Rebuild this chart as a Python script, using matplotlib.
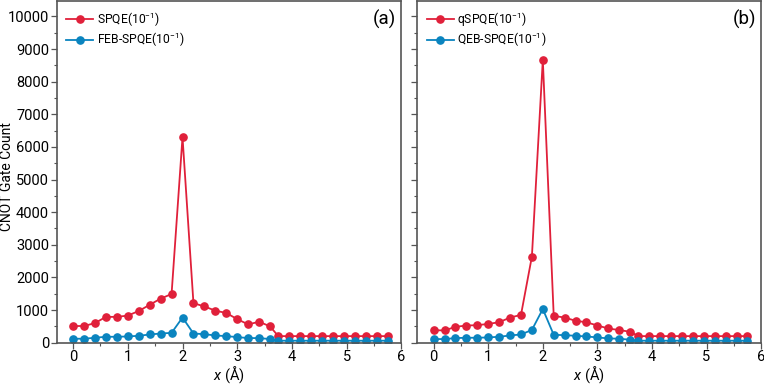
import numpy as np
import matplotlib.pyplot as plt
from matplotlib.ticker import MultipleLocator

plt.rcParams['font.family'] = ['Roboto', 'DejaVu Sans']
plt.rcParams['mathtext.fontset'] = 'custom'
plt.rcParams['mathtext.rm'] = 'Roboto'
plt.rcParams['mathtext.it'] = 'Roboto:italic'

x = [0.0, 0.2, 0.4, 0.6, 0.8, 1.0, 1.2, 1.4, 1.6, 1.8, 2.0, 2.2, 2.4, 2.6, 2.8,
     3.0, 3.2, 3.4, 3.6, 3.75, 3.95, 4.15, 4.35, 4.55, 4.75, 4.95, 5.15, 5.35,
     5.55, 5.75]

spqe = [510, 510, 600, 790, 790, 830, 970, 1160, 1350, 1490, 6300, 1210, 1110,
        980, 910, 720, 560, 640, 500, 200, 200, 200, 200, 200, 200, 200, 200,
        200, 200, 200]
feb_spqe = [120, 120, 150, 180, 180, 190, 210, 250, 280, 300, 770, 280, 260,
            220, 200, 170, 140, 140, 110, 60, 60, 60, 60, 60, 60, 60, 60, 60,
            60, 60]

qspqe = [380, 375, 485, 525, 535, 575, 625, 770, 850, 2640, 8670, 820, 770,
         670, 625, 525, 435, 385, 335, 200, 200, 200, 200, 200, 200, 200, 200,
         200, 200, 200]
qeb_spqe = [110, 110, 140, 150, 150, 160, 180, 220, 250, 390, 1030, 240, 230,
            210, 190, 160, 130, 120, 90, 60, 60, 60, 60, 60, 60, 60, 60, 60,
            60, 60]

red = '#E0203A'
blue = '#0A84BF'
spine_col = '#555555'

fig = plt.figure(figsize=(7.64, 3.85), dpi=100)
ax1 = fig.add_axes([0.0742, 0.110, 0.4511, 0.888])
ax2 = fig.add_axes([0.5462, 0.110, 0.4500, 0.888])

panels = [
    (ax1, spqe, feb_spqe, 'SPQE(10$^{-1}$)', 'FEB-SPQE(10$^{-1}$)', '(a)'),
    (ax2, qspqe, qeb_spqe, 'qSPQE(10$^{-1}$)', 'QEB-SPQE(10$^{-1}$)', '(b)'),
]

for ax, r, b, rl, bl, tag in panels:
    ax.plot(x, r, '-o', color=red, lw=1.3, ms=5.2, label=rl)
    ax.plot(x, b, '-o', color=blue, lw=1.3, ms=5.2, label=bl)
    ax.set_xlim(-0.3, 6)
    ax.set_ylim(0, 10480)
    ax.xaxis.set_major_locator(MultipleLocator(1))
    ax.xaxis.set_minor_locator(MultipleLocator(0.5))
    ax.yaxis.set_major_locator(MultipleLocator(1000))
    ax.yaxis.set_minor_locator(MultipleLocator(500))
    ax.tick_params(which='both', direction='out', colors=spine_col,
                   labelcolor='black', labelsize=10.5, pad=1.5)
    ax.tick_params(which='major', length=4, width=0.9)
    ax.tick_params(which='minor', length=2.5, width=0.8)
    for s in ax.spines.values():
        s.set_color(spine_col)
        s.set_linewidth(1.2)
    ax.set_xlabel('$x$ (Å)', fontsize=10.5)
    ax.xaxis.set_label_coords(0.5, -0.062)
    ax.legend(loc='upper left', frameon=False, fontsize=8.7,
              handlelength=2.2, handletextpad=0.3, borderaxespad=0.4,
              labelspacing=0.22)
    ax.text(0.985, 0.975, tag, transform=ax.transAxes, ha='right', va='top',
            fontsize=13.5)

ax1.set_ylabel('CNOT Gate Count', fontsize=10)
ax1.yaxis.set_label_coords(-0.124, 0.485)
ax2.tick_params(axis='y', labelleft=False)

fig.savefig('out.png', dpi=100)
